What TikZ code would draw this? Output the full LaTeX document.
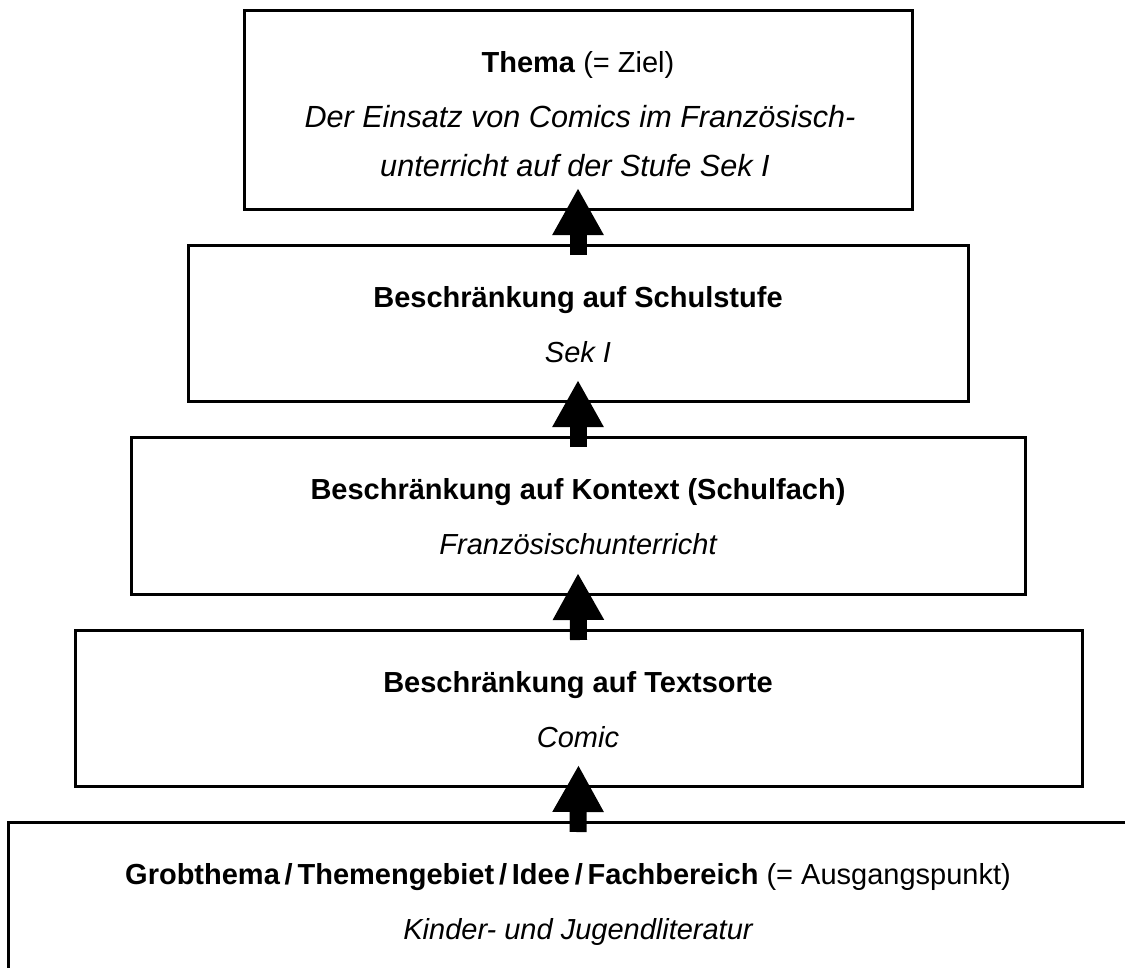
\documentclass[tikz,border=0pt]{standalone}
\usepackage{fontspec}
\setmainfont{Liberation Sans}
\usetikzlibrary{arrows.meta}
\begin{document}
\begin{tikzpicture}[x=1pt,y=-1pt,
  box/.style={draw, line width=3pt, rectangle, inner sep=0pt, outer sep=0pt},
  txt/.style={anchor=base, inner sep=0pt, font=\fontsize{29}{34}\selectfont},
  bigtxt/.style={txt, font=\fontsize{30.6}{36}\selectfont\itshape},
  up/.style={line width=17pt, -{Triangle[width=48pt,length=47pt]}}]
\useasboundingbox (0,0) rectangle (1125,967);
\clip (0,0) rectangle (1125,967);
% boxes
\node[box, minimum width=668pt, minimum height=199pt] (b1) at (578,109.5) {};
\node[box, minimum width=780pt, minimum height=156pt] (b2) at (578,323) {};
\node[box, minimum width=894pt, minimum height=157pt] (b3) at (578,515.5) {};
\node[box, minimum width=1007pt, minimum height=156pt] (b4) at (578.5,708) {};
\node[box, minimum width=1140pt, minimum height=200pt] (b5) at (578,922) {};
% texts
\node[txt] (t1a) at (578,72) {\textbf{Thema} (= Ziel)};
\node[bigtxt] (t1b) at (580,127) {Der Einsatz von Comics im Französisch-};
\node[bigtxt] (t1c) at (575,176) {unterricht auf der Stufe Sek I};
\node[txt] (t2a) at (578,307) {\textbf{Beschränkung auf Schulstufe}};
\node[txt] (t2b) at (578,362) {\itshape Sek I};
\node[txt] (t3a) at (578,499) {\textbf{Beschränkung auf Kontext (Schulfach)}};
\node[txt] (t3b) at (578,554) {\itshape Französischunterricht};
\node[txt] (t4a) at (578,692) {\textbf{Beschränkung auf Textsorte}};
\node[txt] (t4b) at (578,747) {\itshape Comic};
\node[txt] (t5a) at (568,884) {\textbf{Grobthema\,/\,Themengebiet\,/\,Idee\,/\,Fachbereich} (= Ausgangspunkt)};
\node[txt] (t5b) at (578,939) {\itshape Kinder- und Jugendliteratur};
% arrows
\draw[up] ([yshift=-10pt]b2.north) -- ([yshift=21pt]b1.south);
\draw[up] ([yshift=-10pt]b3.north) -- ([yshift=21pt]b2.south);
\draw[up] ([yshift=-10pt]b4.north) -- ([yshift=21pt]b3.south);
\draw[up] ([yshift=-10pt]b5.north) -- ([yshift=21pt]b4.south);
\end{tikzpicture}
\end{document}
